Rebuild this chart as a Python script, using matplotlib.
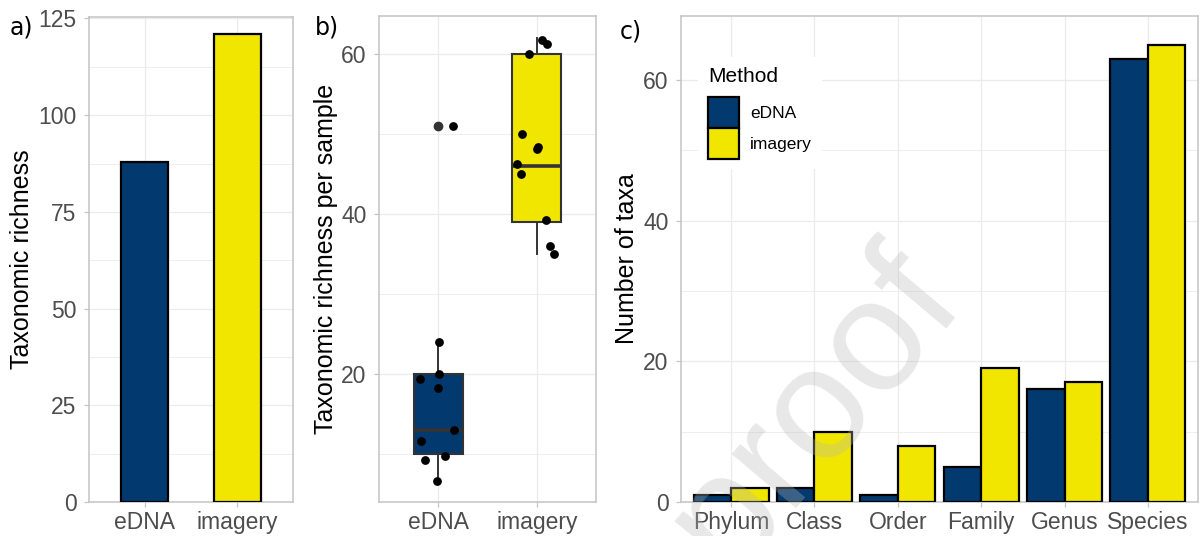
import matplotlib
matplotlib.use("Agg")
import matplotlib.pyplot as plt
from matplotlib.patches import Patch
from matplotlib.ticker import MultipleLocator

# ---------------- data ----------------
methods = ["eDNA", "imagery"]
total_richness = [88, 121]

# panel b: boxplot statistics per method
box_q1 = [10, 39]
box_med = [13, 46]
box_q3 = [20, 60]
box_whislo = [6.6, 35]
box_whishi = [24, 62]
box_fliers = [[51], []]

# panel b: jittered per-sample richness
edna_samples = [24.0, 19.3, 20.0, 18.25, 13.0, 11.6, 9.2, 9.7, 6.6, 51.0]
edna_jitter = [0.01, -0.18, 0.01, 0.0, 0.165, -0.175, -0.13, 0.07, -0.01, 0.15]
imagery_samples = [61.7, 61.2, 59.9, 50.0, 48.1, 48.3, 46.2, 44.9, 39.25, 36.0, 34.9]
imagery_jitter = [0.05, 0.10, -0.08, -0.15, 0.0, 0.01, -0.2, -0.16, 0.09, 0.13, 0.17]

# panel c
ranks = ["Phylum", "Class", "Order", "Family", "Genus", "Species"]
taxa_edna = [1, 2, 1, 5, 16, 63]
taxa_imagery = [2, 10, 8, 19, 17, 65]

# ---------------- style ----------------
BLUE = "#023A6F"
YELLOW = "#F0E600"
GRID = "#EBEBEB"
BORDER = "#C4C4C4"
TICKLAB = "#4D4D4D"

W, H, DPI = 1201, 536, 100
plt.rcParams["font.family"] = ["Liberation Sans", "DejaVu Sans"]

fig = plt.figure(figsize=(W / DPI, H / DPI), dpi=DPI)


def rect(l, r, t, b):
    return [l / W, 1 - b / H, (r - l) / W, (b - t) / H]


def style(ax, major, minor):
    ax.set_facecolor("white")
    for s in ax.spines.values():
        s.set_color(BORDER)
        s.set_linewidth(1.1)
    ax.yaxis.set_major_locator(MultipleLocator(major))
    ax.yaxis.set_minor_locator(MultipleLocator(minor))
    ax.grid(True, which="major", color=GRID, lw=0.9, zorder=0)
    ax.grid(True, which="minor", axis="y", color=GRID, lw=0.6, zorder=0)
    ax.set_axisbelow(True)
    ax.tick_params(axis="y", which="major", color=BORDER, length=3.5, width=0.9,
                   labelcolor=TICKLAB, labelsize=16.5, pad=5.5)
    ax.tick_params(axis="x", which="major", color=BORDER, length=3.5, width=0.9,
                   labelcolor=TICKLAB, labelsize=16.5, pad=3)
    ax.tick_params(axis="both", which="minor", length=0)


YLAB = 18

# ---------------- panel a ----------------
axa = fig.add_axes(rect(89, 293, 16.5, 502))
xa = list(range(len(methods)))
axa.bar(xa, total_richness, width=0.5, color=[BLUE, YELLOW], edgecolor="black",
        linewidth=1.6, zorder=3)
axa.set_xlim(-0.6, 1.6)
axa.set_ylim(0, 125.5)
style(axa, 25, 12.5)
axa.set_xticks(xa)
axa.set_xticklabels(methods)
axa.set_ylabel("Taxonomic richness", fontsize=YLAB, color="black")
axa.yaxis.set_label_coords(-0.27, 0.5)

# ---------------- panel b ----------------
axb = fig.add_axes(rect(379, 596, 16, 502))
stats = []
for i in range(len(methods)):
    stats.append(dict(med=box_med[i], q1=box_q1[i], q3=box_q3[i],
                      whislo=box_whislo[i], whishi=box_whishi[i],
                      fliers=box_fliers[i], label=methods[i]))
bp = axb.bxp(stats, positions=xa, widths=0.5, patch_artist=True, showcaps=False,
             boxprops=dict(edgecolor="#333333", linewidth=1.5),
             medianprops=dict(color="#333333", linewidth=2.6, solid_capstyle="butt"),
             whiskerprops=dict(color="#333333", linewidth=1.4),
             flierprops=dict(marker="o", markerfacecolor="#333333",
                             markeredgecolor="#333333", markersize=6),
             zorder=3)
for patch, c in zip(bp["boxes"], [BLUE, YELLOW]):
    patch.set_facecolor(c)
axb.scatter([0 + j for j in edna_jitter], edna_samples, s=40, color="black",
            zorder=5, linewidths=0)
axb.scatter([1 + j for j in imagery_jitter], imagery_samples, s=40, color="black",
            zorder=5, linewidths=0)
axb.set_xlim(-0.6, 1.6)
axb.set_ylim(3.96, 64.7)
style(axb, 20, 10)
axb.set_xticks(xa)
axb.set_xticklabels(methods)
axb.set_ylabel("Taxonomic richness per sample", fontsize=YLAB, color="black")
axb.yaxis.set_label_coords(-0.19, 0.5)

# ---------------- panel c ----------------
axc = fig.add_axes(rect(681, 1198, 16, 502))
xc = list(range(len(ranks)))
axc.bar([x - 0.225 for x in xc], taxa_edna, width=0.45, color=BLUE,
        edgecolor="black", linewidth=1.6, zorder=3, label="eDNA")
axc.bar([x + 0.225 for x in xc], taxa_imagery, width=0.45, color=YELLOW,
        edgecolor="black", linewidth=1.6, zorder=3, label="imagery")
axc.set_xlim(-0.6, 5.6)
axc.set_ylim(0, 69.1)
style(axc, 20, 10)
axc.set_xticks(xc)
axc.set_xticklabels(ranks)
axc.set_ylabel("Number of taxa", fontsize=YLAB, color="black")
axc.yaxis.set_label_coords(-0.082, 0.5)

handles = [Patch(facecolor=BLUE, edgecolor="black", linewidth=1.6),
           Patch(facecolor=YELLOW, edgecolor="black", linewidth=1.6)]
LFS = 12.5
leg = axc.legend(handles, methods, title="Method", loc="upper left",
                 bbox_to_anchor=(0.033, 0.916), fontsize=LFS, title_fontsize=15,
                 frameon=True, fancybox=False, framealpha=1, edgecolor="none",
                 facecolor="white", handlelength=1.78, handleheight=2.37,
                 labelspacing=0.0, handletextpad=0.64, borderpad=0.58,
                 borderaxespad=0)
leg._legend_box.align = "left"
leg._legend_box.sep = 8
leg.set_zorder(6)

# ---------------- panel tags ----------------
for txt, x, y in [("a)", 10, 27), ("b)", 315, 28), ("c)", 620, 31)]:
    fig.text(x / W, 1 - y / H, txt, fontsize=17, family="DejaVu Sans",
             ha="left", va="center", color="black")

# ---------------- watermark ----------------
fig.text(815 / W, 1 - 410 / H, "proof", fontsize=115, color="#B8B8B8", alpha=0.32,
         rotation=50, ha="center", va="center", zorder=20)

fig.savefig("out.png", dpi=DPI)
